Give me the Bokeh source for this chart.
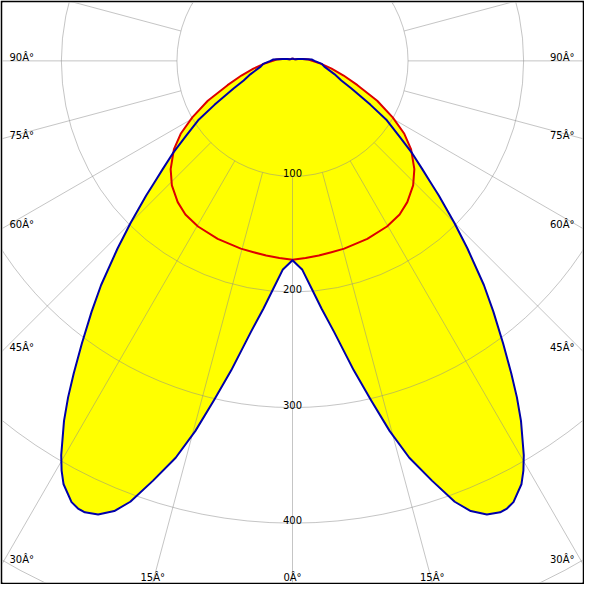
import numpy as np
from bokeh.plotting import figure
from bokeh.models import Range1d
from bokeh.embed import file_html
from bokeh.resources import INLINE
from bokeh.core.properties import value

# ---------------- data ----------------
# C90-C270 plane (blue), gamma in degrees, intensity in cd
gamma_blue = [0, 2.7, 4.9, 6.7, 8.7, 11.2, 13.0, 14.7, 16.4, 18.4, 20.2, 21.6, 23.2,
              24.7, 25.6, 26.6, 28.4, 29.4, 30.4, 32.4, 33.7, 35.0, 36.7, 38.7, 40.5,
              43.0, 45.0, 47.4, 48.6, 50.2, 52.3, 54.7, 57.8, 60.6, 65.0, 68.2, 72.5,
              79.7, 84.3, 90, 93.7, 101, 110, 120, 150, 180]
cd_blue = [172.5, 181, 198.5, 216, 237, 273, 301, 331, 358, 383, 406.5, 419, 427,
           430, 429.5, 427, 416.5, 407, 395.5, 369, 350, 330, 305, 278, 255,
           222, 198, 172, 159.5, 146, 131, 113.5, 96.5, 77.5, 56, 45.5, 38,
           28, 25.5, 19, 17, 8.5, 5, 3, 2, 2]

# C0-C180 plane (red)
gamma_red = [0, 3.8, 7.7, 11.5, 15.4, 22.8, 29.7, 34.9, 39.1, 44.1, 48.4, 53.3,
             56.9, 60.6, 64.8, 69.5, 74, 78.7, 84, 90, 95, 100, 110, 120, 150, 180]
cd_red = [172, 171, 170, 169, 168.5, 167, 165, 162, 157.5, 150, 141, 128,
          115.5, 99.5, 81, 60, 46, 34.5, 25, 17, 14, 9, 5, 3, 2, 2]

ring_values = [100, 200, 300, 400, 500]
ring_labels = ["100", "200", "300", "400"]
spoke_angles = list(range(0, 360, 15))
angle_label_values = [0, 15, 30, 45, 60, 75, 90]

# ---------------- layout ----------------
W = H = 584
BORDER = 2
PX = 1.1875 * (W - 2 * BORDER) / 596.0   # screen px per cd
FRAME = W - 2 * BORDER
x0 = -(FRAME / 2) / PX
x1 = (FRAME / 2) / PX
y1 = (60 * FRAME / 596.0) / PX
y0 = y1 - FRAME / PX

p = figure(width=W, height=H, output_backend="svg", toolbar_location=None,
           x_range=Range1d(x0, x1), y_range=Range1d(y0, y1),
           min_border=BORDER, border_fill_color="black",
           background_fill_color="white", outline_line_color=None)
p.xaxis.visible = False
p.yaxis.visible = False
p.xgrid.visible = False
p.ygrid.visible = False


def outline(gam, cd):
    g = np.array(gam, dtype=float)
    v = np.array(cd, dtype=float)
    ang = np.concatenate([-g[::-1], g[1:]])
    val = np.concatenate([v[::-1], v[1:]])
    rad = np.radians(ang)
    return val * np.sin(rad), -val * np.cos(rad)


bx, by = outline(gamma_blue, cd_blue)
rx, ry = outline(gamma_red, cd_red)

# fills
p.patch(bx, by, fill_color="#ffff00", line_color=None)
p.patch(rx, ry, fill_color="#ffff00", line_color=None)

# grid
GRID = "#8c8c8c"
GA = 0.5
p.circle(x=[0] * len(ring_values), y=[0] * len(ring_values), radius=ring_values,
         fill_color=None, line_color=GRID, line_alpha=GA, line_width=1)
sx, sy = [], []
for a in spoke_angles:
    t = np.radians(a)
    sx.append([100 * np.sin(t), 900 * np.sin(t)])
    sy.append([-100 * np.cos(t), -900 * np.cos(t)])
p.multi_line(sx, sy, line_color=GRID, line_alpha=GA, line_width=1)

# curves
p.line(rx, ry, line_color="#dd0000", line_width=2, line_join="round")
p.line(bx, by, line_color="#0000aa", line_width=2, line_join="round")

# labels
FONT = value("DejaVu Sans")
FS = "10px"
p.text(x=[0] * len(ring_labels), y=[-float(s) + 3.0 / PX for s in ring_labels],
       text=ring_labels, text_font=FONT, text_font_size=FS,
       text_align="center", text_baseline="alphabetic", text_color="black")

lx, ly, lt = [], [], []
rxl, ryl, rtl = [], [], []
cx, cy, ct = [], [], []
for a in angle_label_values:
    lab = f"{a}Â°"
    t = np.radians(a)
    if a == 90:
        ye = 0.0
    else:
        ye = x0 / np.tan(t) if a > 0 else -1e9
    if a > 0 and ye >= y0:
        lx.append(x0 + 7.0 / PX); ly.append(ye + 3.5 / PX); lt.append(lab)
        rxl.append(x1 - 8.0 / PX); ryl.append(ye + 3.5 / PX); rtl.append(lab)
    else:
        xb = y0 * np.tan(t)
        for xv in ([xb, -xb] if a > 0 else [0.0]):
            cx.append(xv); cy.append(y0 + 5.0 / PX); ct.append(lab)

p.text(x=lx, y=ly, text=lt, text_font=FONT, text_font_size=FS,
       text_align="left", text_baseline="alphabetic", text_color="black")
p.text(x=rxl, y=ryl, text=rtl, text_font=FONT, text_font_size=FS,
       text_align="right", text_baseline="alphabetic", text_color="black")
p.text(x=cx, y=cy, text=ct, text_font=FONT, text_font_size=FS,
       text_align="center", text_baseline="alphabetic", text_color="black")

open("out.html", "w").write(file_html(p, INLINE))
